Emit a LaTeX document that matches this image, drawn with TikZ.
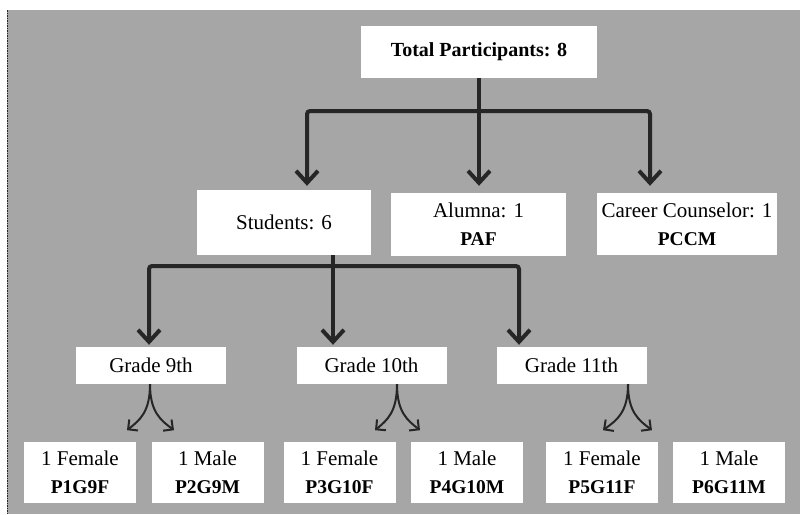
\documentclass[tikz,border=0pt]{standalone}
\usepackage{fontspec}
\setmainfont{Liberation Serif}
\usetikzlibrary{arrows.meta,calc}
\definecolor{bg}{HTML}{A6A6A6}
\definecolor{ink}{HTML}{262626}
\newcommand\pcode[1]{{\fontsize{19.5}{28}\selectfont\bfseries #1}}
\begin{document}
\begin{tikzpicture}[x=1pt,y=-1pt,
 box/.style={fill=white,draw=none,inner sep=0pt,align=center,font=\fontsize{21}{28}\selectfont},
 gradebox/.style={box,minimum width=150pt,minimum height=37pt},
 leafbox/.style={box,minimum width=112pt,minimum height=61pt},
 bigline/.style={draw=ink,line width=4pt},
 bigarr/.style={draw=ink,line width=4pt,-{Straight Barb[length=12pt,width=22pt]}},
 smallarr/.style={draw=ink,line width=2pt,-{Straight Barb[length=7pt,width=14pt]}}]
\useasboundingbox (0,0) rectangle (800,514);
\fill[white] (0,0) rectangle (800,514);
\fill[bg] (7,10) rectangle (800,514);
\draw[ink,line width=1.5pt,densely dotted] (7.5,10) -- (7.5,514);

% top level
\node[box,minimum width=236pt,minimum height=52pt,font=\fontsize{20}{24}\selectfont\bfseries] (total) at (479,52) {Total Participants: 8};
\node[box,minimum width=174pt,minimum height=65pt] (students) at (284,222.5) {Students: 6};
\node[box,minimum width=175pt,minimum height=63pt] (alumna) at (478.5,224.5) {Alumna: 1\\\pcode{PAF}};
\node[box,minimum width=180pt,minimum height=62pt] (career) at (687,224) {Career Counselor: 1\\\pcode{PCCM}};

% grades
\node[gradebox] (g9) at (151,365.5) {Grade 9th};
\node[gradebox] (g10) at (371.5,365.5) {Grade 10th};
\node[gradebox] (g11) at (571.5,365.5) {Grade 11th};

% leaves
\node[leafbox] (p1) at (80,472.5) {1 Female\\\pcode{P1G9F}};
\node[leafbox] (p2) at (207.5,472.5) {1 Male\\\pcode{P2G9M}};
\node[leafbox] (p3) at (339.5,472.5) {1 Female\\\pcode{P3G10F}};
\node[leafbox] (p4) at (467,472.5) {1 Male\\\pcode{P4G10M}};
\node[leafbox] (p5) at (602,472.5) {1 Female\\\pcode{P5G11F}};
\node[leafbox] (p6) at (729,472.5) {1 Male\\\pcode{P6G11M}};

% connectors level 1
\coordinate (j1) at (479,111);
\draw[bigline] (total.south) -- (j1);
\draw[bigarr,rounded corners=3pt,shorten >=4pt] (j1) -| ($(students.north)+(23,0)$);
\draw[bigarr,shorten >=7pt] (j1) -- (j1 |- alumna.north);
\draw[bigarr,rounded corners=3pt,shorten >=7pt] (j1) -| ($(career.north)+(-37,0)$);

% connectors level 2
\coordinate (j2) at (333,266);
\draw[bigline] ($(students.south)+(49,0)$) -- (j2);
\draw[bigarr,rounded corners=3pt,shorten >=2pt] (j2) -| ($(g9.north)+(-2,0)$);
\draw[bigarr,shorten >=2pt] (j2) -- ($(g10.north)+(-38.5,0)$);
\draw[bigarr,rounded corners=3pt,shorten >=2pt] (j2) -| ($(g11.north)+(-52.5,0)$);

% split arrows
\foreach \g/\dx/\l/\r in {g9/-1/-23/24, g10/25.5/-22/23, g11/56.5/-25/24}{
  \coordinate (s) at ($(\g.south)+(\dx,0)$);
  \draw[smallarr] (s) .. controls ($(s)+(0,28)$) and ($(s)+(\l*0.45,36)$) .. ($(s)+(\l,46)$);
  \draw[smallarr] (s) .. controls ($(s)+(0,28)$) and ($(s)+(\r*0.45,36)$) .. ($(s)+(\r,46)$);
}
\end{tikzpicture}
\end{document}
